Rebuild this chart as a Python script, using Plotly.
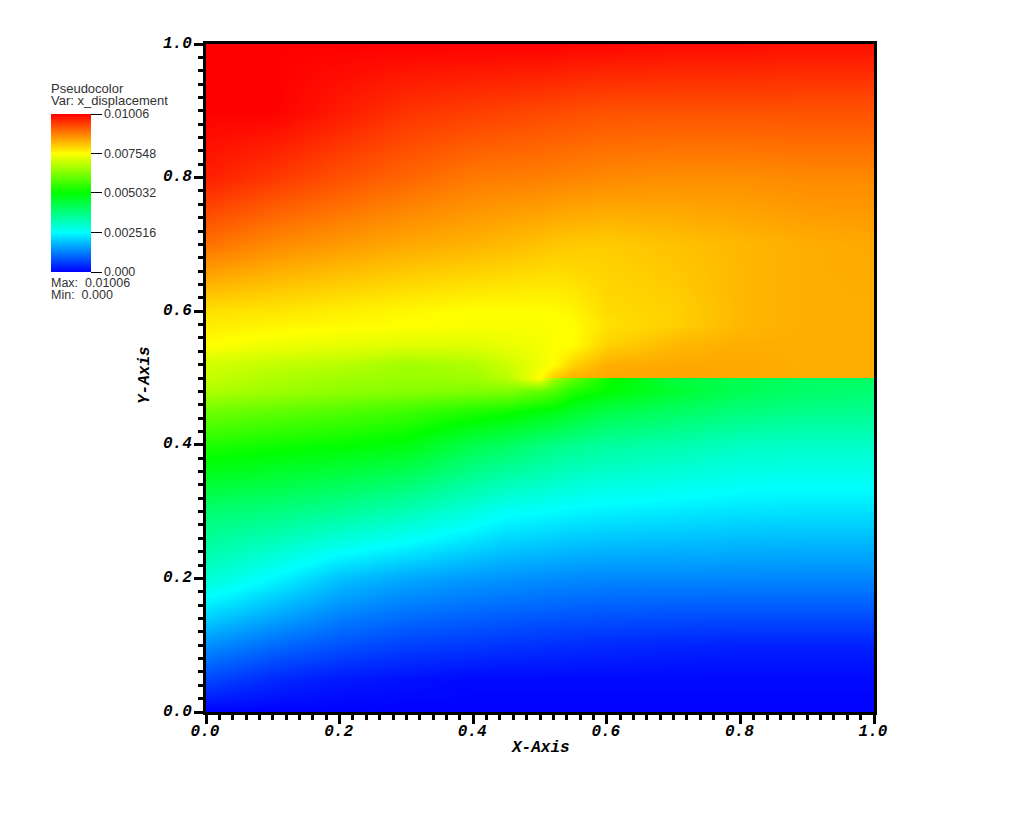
#!/usr/bin/env python3
"""VisIt style pseudocolor plot of x_displacement, redone with Plotly."""

import numpy as np
import plotly.graph_objects as go

Z_MAX = 0.01006

x_grid = [0.0, 0.1, 0.2, 0.3, 0.4, 0.45, 0.5, 0.52, 0.55, 0.6, 0.7, 0.8, 0.9, 1.0]
y_grid = [0.0, 0.05, 0.1, 0.2, 0.3, 0.4, 0.45, 0.48, 0.4999, 0.5001, 0.52, 0.55, 0.58, 0.6, 0.7, 0.8, 0.9, 1.0]

# fraction of Z_MAX, one row per y_grid value
z_rows = [
    [0, 0, 0, 0, 0, 0, 0, 0, 0, 0, 0, 0, 0, 0],
    [.070, .040, .024, .016, .008, .008, .008, .008, .008, .008, .008, .008, .008, .008],
    [.141, .105, .080, .063, .055, .050, .047, .045, .043, .040, .035, .032, .032, .032],
    [.296, .245, .190, .165, .150, .145, .140, .138, .136, .133, .133, .133, .133, .133],
    [.390, .375, .350, .320, .278, .255, .250, .246, .240, .235, .228, .222, .220, .220],
    [.530, .515, .503, .485, .425, .405, .380, .370, .360, .345, .330, .310, .305, .305],
    [.610, .595, .580, .560, .530, .515, .490, .485, .460, .430, .405, .380, .365, .360],
    [.670, .655, .640, .633, .625, .625, .595, .580, .530, .500, .453, .420, .398, .390],
    [.695, .670, .655, .650, .655, .680, .750, .660, .595, .515, .437, .420, .405, .405],
    [.695, .670, .655, .650, .655, .680, .750, .800, .830, .835, .840, .835, .830, .830],
    [.705, .690, .680, .657, .670, .700, .735, .750, .795, .830, .835, .835, .830, .830],
    [.750, .735, .727, .720, .720, .730, .740, .747, .750, .795, .820, .830, .830, .830],
    [.768, .760, .755, .750, .745, .745, .745, .748, .752, .778, .797, .820, .830, .830],
    [.780, .775, .765, .757, .750, .750, .750, .752, .760, .785, .795, .820, .830, .830],
    [.890, .865, .850, .835, .825, .817, .810, .806, .803, .800, .810, .820, .830, .835],
    [.970, .945, .920, .900, .880, .877, .875, .872, .870, .865, .860, .860, .865, .865],
    [1.00, 1.00, .975, .950, .940, .935, .930, .928, .925, .920, .920, .920, .920, .920],
    [1.00, 1.00, 1.00, 1.00, 1.00, 1.00, 1.00, 1.00, .995, .995, .990, .990, .985, .985],
]

bar_ticks = [0.0, 0.002516, 0.005032, 0.007548, 0.01006]
bar_labels = ["0.000", "0.002516", "0.005032", "0.007548", "0.01006"]
hot_scale = [
    [0.0, "#0000ff"],
    [0.25, "#00ffff"],
    [0.5, "#00ff00"],
    [0.75, "#ffff00"],
    [1.0, "#ff0000"],
]

# plot area in page pixels: left edge, bottom edge, side
PLOT_L, PLOT_B, PLOT_S = 206, 712, 668

AXIS_FONT = dict(family="Liberation Mono", size=16, color="#000000",
                 weight="bold", style="italic")
BAR_FONT = dict(family="Liberation Sans", size=12.5, color="#333333")


def page_x(px):
    """Page pixel to paper x."""
    return (px - PLOT_L) / PLOT_S


def page_y(py):
    """Page pixel to paper y."""
    return (PLOT_B - py) / PLOT_S


fig = go.Figure(
    go.Heatmap(
        x=x_grid,
        y=y_grid,
        z=np.array(z_rows) * Z_MAX,
        zmin=0,
        zmax=Z_MAX,
        zsmooth="best",
        colorscale=hot_scale,
        hoverinfo="skip",
        colorbar=dict(
            x=page_x(51),
            y=page_y(272),
            xanchor="left",
            yanchor="bottom",
            lenmode="pixels",
            len=158,
            thicknessmode="pixels",
            thickness=40,
            xpad=0,
            ypad=0,
            outlinewidth=0,
            tickmode="array",
            tickvals=bar_ticks,
            ticktext=bar_labels,
            ticks="outside",
            ticklen=11,
            tickwidth=1,
            tickcolor="#000000",
            tickfont=BAR_FONT,
        ),
    )
)

axis_style = dict(
    range=[0, 1],
    tick0=0,
    dtick=0.2,
    tickformat=".1f",
    ticks="outside",
    ticklen=9,
    tickwidth=3,
    tickcolor="#000000",
    tickfont=AXIS_FONT,
    showline=True,
    linewidth=3,
    linecolor="#000000",
    mirror=True,
    showgrid=False,
    zeroline=False,
    minor=dict(ticks="outside", ticklen=5, tickwidth=3, tickcolor="#000000",
               tick0=0, dtick=0.02, showgrid=False),
)
fig.update_xaxes(axis_style)
fig.update_yaxes(axis_style)
fig.update_xaxes(ticklabelstandoff=-7, ticklabelshift=-1)
fig.update_yaxes(ticklabelstandoff=-1, ticklabelshift=-2)

# axis names
fig.add_annotation(xref="paper", yref="paper", x=page_x(540), y=page_y(748),
                   xanchor="center", yanchor="middle",
                   text="X-Axis", font=AXIS_FONT, showarrow=False)
fig.add_annotation(xref="paper", yref="paper", x=page_x(145), y=page_y(375),
                   xanchor="center", yanchor="middle",
                   text="Y-Axis", font=AXIS_FONT, showarrow=False, textangle=-90)

# legend text above and below the colour bar
for text, size, px, py in [
    ("Pseudocolor", 13, 49, 89),
    ("Var: x_displacement", 13, 49, 101),
    ("Max:  0.01006", 12.5, 49, 283),
    ("Min:  0.000", 12.5, 49, 295),
]:
    fig.add_annotation(
        xref="paper",
        yref="paper",
        x=page_x(px),
        y=page_y(py),
        xanchor="left",
        yanchor="middle",
        text=text,
        font=dict(family="Liberation Sans", size=size, color="#333333"),
        showarrow=False,
    )

# the page adds an 8px body margin on the top and left
fig.update_layout(
    width=1008,
    height=822,
    autosize=False,
    paper_bgcolor="#ffffff",
    plot_bgcolor="#ffffff",
    margin=dict(l=PLOT_L - 8, r=1008 + 8 - PLOT_L - PLOT_S,
                t=PLOT_B - PLOT_S - 8, b=822 + 8 - PLOT_B, autoexpand=False),
)
fig.write_html("out.html")
